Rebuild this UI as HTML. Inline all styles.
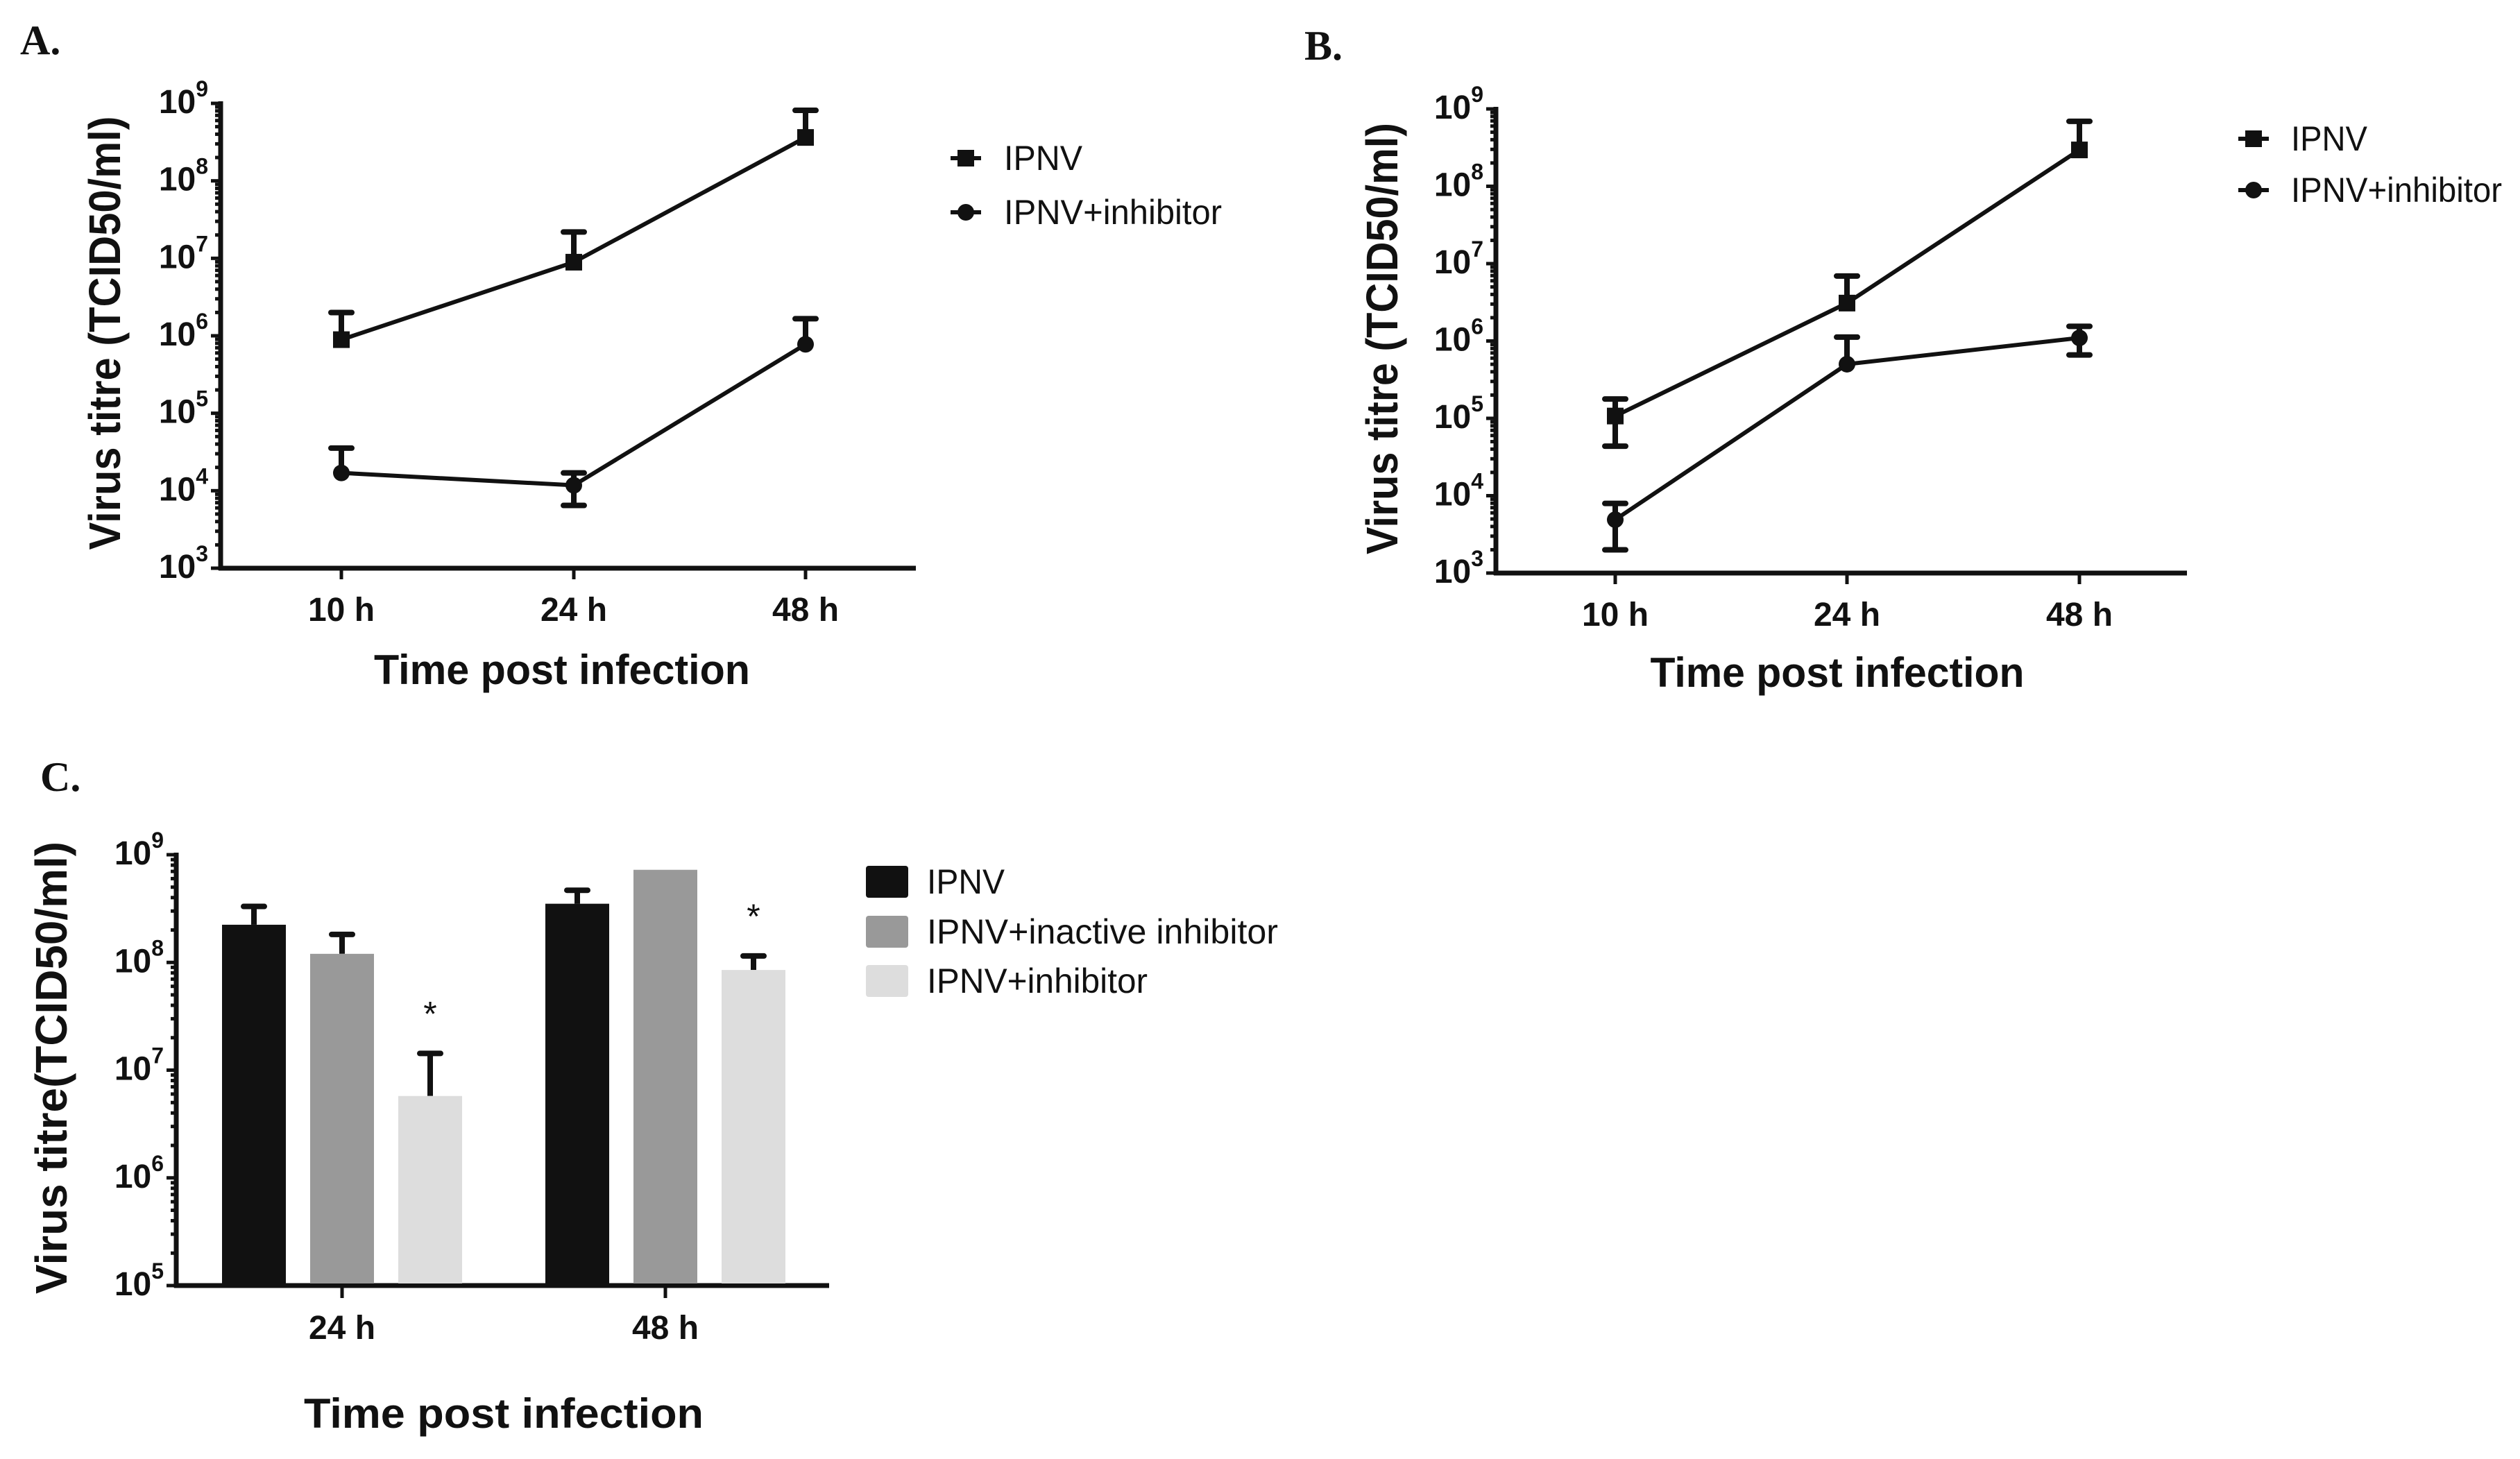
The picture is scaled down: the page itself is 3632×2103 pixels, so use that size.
<!DOCTYPE html>
<html><head><meta charset="utf-8"><style>
html,body{margin:0;padding:0;background:#fff;}
svg{display:block;}
text{font-family:"Liberation Sans",Arial,sans-serif;fill:#111;}
.lab{font-family:"Liberation Serif",serif;font-weight:bold;font-size:60px;}
.b{font-weight:bold;}
</style></head><body>
<svg id="fig" width="3632" height="2103" viewBox="0 0 3632 2103" xmlns="http://www.w3.org/2000/svg">
<rect width="3632" height="2103" fill="#fff"/>
<text class="lab" x="29" y="78">A.</text>
<text class="lab" x="1880" y="86">B.</text>
<text class="lab" x="58" y="1140">C.</text>
<g id="pa"></g>
<g id="pb"></g>
<g id="pc"></g>
</svg>
<script>
// ---- data (log10 values) ----
const timeCats = ["10 h","24 h","48 h"];
const aIpnv = [5.95, 6.95, 8.56];
const aIpnvHi = [6.30, 7.34, 8.91];
const aIpnvLo = [null, null, null];
const aInh = [4.23, 4.07, 5.89];
const aInhHi = [4.55, 4.23, 6.22];
const aInhLo = [null, 3.81, null];
const bIpnv = [5.03, 6.49, 8.47];
const bIpnvHi = [5.25, 6.84, 8.84];
const bIpnvLo = [4.64, null, null];
const bInh = [3.69, 5.70, 6.04];
const bInhHi = [3.90, 6.05, 6.19];
const bInhLo = [3.30, null, 5.82];
const barCats = ["24 h","48 h"];
const cIpnv = [8.35, 8.545];
const cIpnvHi = [8.52, 8.67];
const cInact = [8.08, 8.86];
const cInactHi = [8.26, null];
const cInh = [6.76, 7.93];
const cInhHi = [7.155, 8.06];
const cStars = [true, true];

const NS="http://www.w3.org/2000/svg";
function mk(p,tag,at,txt){const e=document.createElementNS(NS,tag);for(const k in at)e.setAttribute(k,at[k]);if(txt!==undefined)e.textContent=txt;p.appendChild(e);return e;}

function axes(g,o){
  const ys=v=>o.y0-(v-o.vmin)/(o.vmax-o.vmin)*(o.y0-o.y1);
  let ax=mk(g,'line',{x1:o.x0,y1:o.y1-3,x2:o.x0,y2:o.y0+3,stroke:'#111','stroke-width':7});
  
  let xa=mk(g,'line',{x1:o.x0-3,y1:o.y0,x2:o.xe,y2:o.y0,stroke:'#111','stroke-width':7});
  
  for(let d=o.vmin;d<=o.vmax;d++){
    const y=ys(d);
    mk(g,'line',{x1:o.x0-14,y1:y,x2:o.x0,y2:y,stroke:'#111','stroke-width':5});
    const t=mk(g,'text',{x:o.x0-18,y:y+14,'text-anchor':'end','font-size':48,class:'b'});
    
    mk(t,'tspan',{},'10');mk(t,'tspan',{dy:-24,'font-size':32},String(d));
    if(d<o.vmax)for(let m=2;m<=9;m++){const yy=ys(d+Math.log10(m));mk(g,'line',{x1:o.x0-8,y1:yy,x2:o.x0,y2:yy,stroke:'#111','stroke-width':5});}
  }
  const yt=mk(g,'text',{x:0,y:0,transform:`translate(${o.ytx},${o.yty}) rotate(-90)`,'text-anchor':'middle','font-size':64,class:'b',textLength:o.ytl,lengthAdjust:'spacingAndGlyphs'},o.ytitle);
  
  const xt=mk(g,'text',{x:o.xtx,y:o.xty,'text-anchor':'middle','font-size':60,class:'b',textLength:o.xtl,lengthAdjust:'spacingAndGlyphs'},'Time post infection');
  
  return ys;
}
function errbar(g,x,y1,y2){
  mk(g,'line',{x1:x,y1:y1,x2:x,y2:y2,stroke:'#111','stroke-width':8});
  mk(g,'line',{x1:x-15,y1:y2,x2:x+15,y2:y2,stroke:'#111','stroke-width':8,'stroke-linecap':'round'});
}
function linePanel(g,o,series){
  const ys=axes(g,o);
  const xs=i=>o.cx[i];
  timeCats.forEach((c,i)=>{
    mk(g,'line',{x1:xs(i),y1:o.y0,x2:xs(i),y2:o.y0+16,stroke:'#111','stroke-width':5});
    const t=mk(g,'text',{x:xs(i),y:o.tly,'text-anchor':'middle','font-size':48,class:'b'},c);
    
  });
  series.forEach((s,si)=>{
    const sg=mk(g,'g',{});
    
    mk(sg,'polyline',{points:s.v.map((v,i)=>xs(i)+','+ys(v)).join(' '),fill:'none',stroke:'#111','stroke-width':6});
    s.v.forEach((v,i)=>{
      if(s.hi[i]!=null)errbar(sg,xs(i),ys(v),ys(s.hi[i]));
      if(s.lo[i]!=null)errbar(sg,xs(i),ys(v),ys(s.lo[i]));
      let m;
      if(s.sq)m=mk(sg,'rect',{x:xs(i)-12,y:ys(v)-12,width:24,height:24,fill:'#111'});
      else m=mk(sg,'circle',{cx:xs(i),cy:ys(v),r:12,fill:'#111'});
      
    });
    const lx=o.lgx,ly=o.lgy[si];
    const lg=mk(g,'g',{});
    
    mk(lg,'line',{x1:lx-22,y1:ly,x2:lx+22,y2:ly,stroke:'#111','stroke-width':6});
    if(s.sq)mk(lg,'rect',{x:lx-12,y:ly-12,width:24,height:24,fill:'#111'});else mk(lg,'circle',{cx:lx,cy:ly,r:12,fill:'#111'});
    mk(lg,'text',{x:o.lgt,y:ly+17,'font-size':50,textLength:s.tl,lengthAdjust:'spacingAndGlyphs'},s.label);
  });
}
linePanel(document.getElementById('pa'),{x0:318,xe:1320,y0:819,y1:149,vmin:3,vmax:9,cx:[492,827,1161],tly:895,
  ytitle:'Virus titre (TCID50/ml)',ytx:173,yty:480,ytl:625,xtx:810,xty:986,xtl:542,lgx:1392,lgy:[228,306],lgt:1447},
  [{name:'series-ipnv',v:aIpnv,hi:aIpnvHi,lo:aIpnvLo,sq:true,label:'IPNV',tl:113},
   {name:'series-ipnv-inhibitor',v:aInh,hi:aInhHi,lo:aInhLo,sq:false,label:'IPNV+inhibitor',tl:314}]);
linePanel(document.getElementById('pb'),{x0:2156,xe:3152,y0:826,y1:157,vmin:3,vmax:9,cx:[2328,2662,2997],tly:902,
  ytitle:'Virus titre (TCID50/ml)',ytx:2014,yty:488,ytl:622,xtx:2648,xty:990,xtl:539,lgx:3248,lgy:[200,274],lgt:3302},
  [{name:'series-ipnv',v:bIpnv,hi:bIpnvHi,lo:bIpnvLo,sq:true,label:'IPNV',tl:110},
   {name:'series-ipnv-inhibitor',v:bInh,hi:bInhHi,lo:bInhLo,sq:false,label:'IPNV+inhibitor',tl:304}]);

(function(){
  const g=document.getElementById('pc');
  const o={x0:254,xe:1195,y0:1853,y1:1232,vmin:5,vmax:9,ytitle:'Virus titre(TCID50/ml)',ytx:96,yty:1539,ytl:652,xtx:726,xty:2058,xtl:576};
  const ys=axes(g,o);
  const gc=[493,959], off=127, bw=92;
  const series=[{n:'bar-ipnv',v:cIpnv,hi:cIpnvHi,c:'#111111',l:'IPNV',tl:112},
    {n:'bar-ipnv-inactive-inhibitor',v:cInact,hi:cInactHi,c:'#999999',l:'IPNV+inactive inhibitor',tl:506},
    {n:'bar-ipnv-inhibitor',v:cInh,hi:cInhHi,c:'#dddddd',l:'IPNV+inhibitor',tl:318}];
  barCats.forEach((c,i)=>{
    mk(g,'line',{x1:gc[i],y1:o.y0,x2:gc[i],y2:o.y0+18,stroke:'#111','stroke-width':5});
    const t=mk(g,'text',{x:gc[i],y:1930,'text-anchor':'middle','font-size':48,class:'b'},c);
    
  });
  series.forEach((s,si)=>{
    s.v.forEach((v,i)=>{
      const cx=gc[i]+(si-1)*off;
      if(s.hi[i]!=null)errbar(g,cx,ys(v),ys(s.hi[i]));
      const r=mk(g,'rect',{x:cx-bw/2,y:ys(v),width:bw,height:o.y0-ys(v)-3,fill:s.c});
      
      if(si===2&&cStars[i]){const st=mk(g,'text',{x:cx,y:ys(s.hi[i])-40,'text-anchor':'middle','font-size':50},'*');
        }
    });
    const ly=[1271,1343,1414][si];
    const lg=mk(g,'g',{});
    
    mk(lg,'rect',{x:1248,y:ly-23,width:61,height:46,rx:4,fill:s.c});
    mk(lg,'text',{x:1336,y:ly+17,'font-size':50,textLength:s.tl,lengthAdjust:'spacingAndGlyphs'},s.l);
  });
})();
</script>
</body></html>
